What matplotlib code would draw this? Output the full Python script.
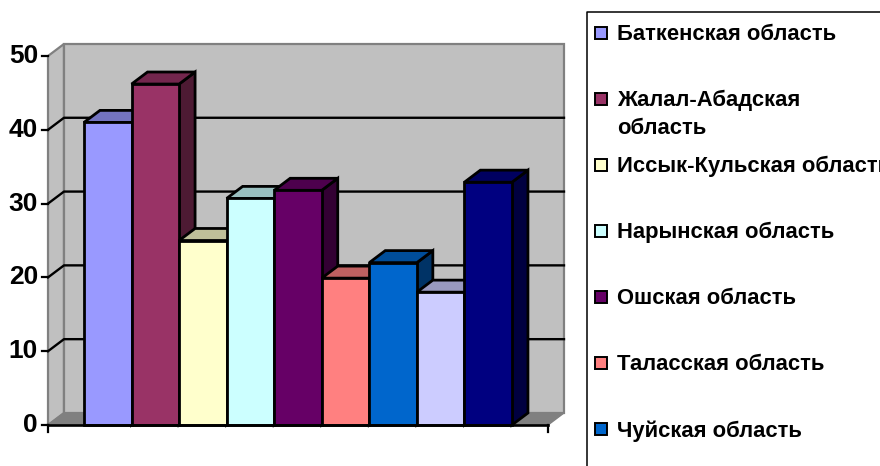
import matplotlib
matplotlib.use("Agg")
import matplotlib.pyplot as plt
from matplotlib.colors import to_rgb
from matplotlib.patches import Polygon, Rectangle

values = [41, 46.2, 25, 30.7, 31.8, 19.9, 22, 18, 32.9]
colors = ['#9999FF', '#993366', '#FFFFCC', '#CCFFFF', '#660066', '#FF8080', '#0066CC', '#CCCCFF', '#000080']
y_ticks = [0, 10, 20, 30, 40, 50]
legend_labels = ['Баткенская область', 'Жалал-Абадская\nобласть', 'Иссык-Кульская область',
                 'Нарынская область', 'Ошская область', 'Таласская область', 'Чуйская область']

W, H = 880, 466
DX, DY = 0.336, 1.63  # depth of the fake 3d, in data units
X0, X1 = -1.257, 9.258
Y_MAX = 50

plt.rcParams['font.family'] = ['Liberation Sans', 'DejaVu Sans']


def shade(color, k):
    return tuple(c * k for c in to_rgb(color))


fig = plt.figure(figsize=(W / 100, H / 100), dpi=100)
ax = fig.add_axes([48 / W, 1 - 425 / H, 500 / W, 369 / H])
ax.set_xlim(X0, X1)
ax.set_ylim(0, Y_MAX)
ax.axis('off')

# walls and floor
wall = dict(facecolor='#C0C0C0', edgecolor='#808080', linewidth=1.6, clip_on=False, zorder=1)
ax.add_patch(Polygon([(X0, 0), (X0 + DX, DY), (X0 + DX, Y_MAX + DY), (X0, Y_MAX)], **wall))
ax.add_patch(Rectangle((X0 + DX, DY), X1 - X0, Y_MAX, **wall))
ax.add_patch(Polygon([(X0, 0), (X1, 0), (X1 + DX, DY), (X0 + DX, DY)], facecolor='#808080',
                     edgecolor='#808080', linewidth=1, clip_on=False, zorder=1))

# gridlines run along the side wall and the back wall
for t in y_ticks[1:-1]:
    ax.plot([X0, X0 + DX, X1 + DX], [t, t + DY, t + DY], color='black', lw=1.7, clip_on=False, zorder=2)

# bars, left to right so that later ones cover earlier sides
edge = dict(edgecolor='black', linewidth=2.0, joinstyle='miter', clip_on=False)
for i, (v, c) in enumerate(zip(values, colors)):
    z = 3 + i
    l, r = i - 0.5, i + 0.5
    ax.add_patch(Polygon([(r, 0), (r + DX, DY), (r + DX, v + DY), (r, v)], facecolor=shade(c, 0.5), zorder=z, **edge))
    ax.add_patch(Polygon([(l, v), (r, v), (r + DX, v + DY), (l + DX, v + DY)], facecolor=shade(c, 0.75), zorder=z, **edge))
    ax.bar(i, v, width=1, color=c, zorder=z, clip_on=False, **{k: edge[k] for k in ('edgecolor', 'linewidth')})

# axis line, ticks, tick labels
ax.plot([X0, X1], [0, 0], color='black', lw=1.9, clip_on=False, zorder=20)
tick_x = 6 / 47.55
tick_y = 7 / 7.38
for t in y_ticks:
    ax.plot([X0 - tick_x, X0], [t, t], color='black', lw=1.6, clip_on=False, zorder=20)
    ax.text(X0 - 10 / 47.55, t, str(t), ha='right', va='center', fontsize=19, fontweight='bold', color='black')
for x in (X0, X1):
    ax.plot([x, x], [0, -tick_y], color='black', lw=1.6, clip_on=False, zorder=20)

# legend box, cut off by the right and bottom of the picture
fig.add_artist(plt.Line2D([587 / W, 587 / W, 1], [0, 1 - 12 / H, 1 - 12 / H], color='black', lw=1.1))
legend_y = [33, 99, 165, 231, 297, 363, 429]
for label, c, y in zip(legend_labels, colors, legend_y):
    fig.add_artist(Rectangle((595 / W, 1 - (y + 6) / H), 12 / W, 12 / H, facecolor=c, edgecolor='black',
                             linewidth=1.4, transform=fig.transFigure))
    fig.text(617 / W, 1 - (y - 9) / H, label, ha='left', va='top', fontsize=15.8, fontweight='bold',
             color='black', linespacing=1.4)

fig.savefig('out.png', dpi=100)
